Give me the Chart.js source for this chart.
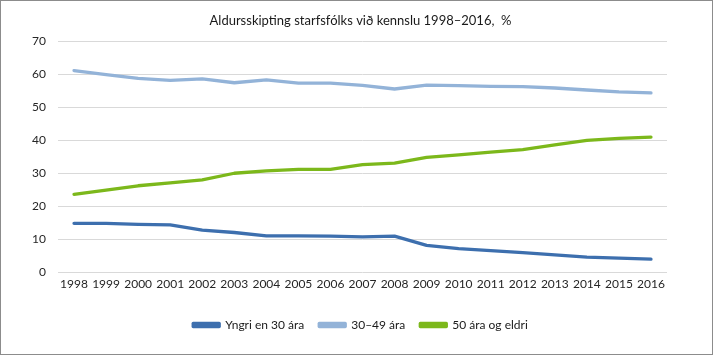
<!DOCTYPE html>
<html>
<head>
<meta charset="utf-8">
<script src="https://cdn.jsdelivr.net/npm/chart.js@4"></script>
<style>
  html, body { margin: 0; padding: 0; background: #fff; }
  #wrap { width: 711px; height: 353px; border: 1px solid #8c8c8c; position: relative; }
  canvas { display: block; }
</style>
</head>
<body>
<div id="wrap"><canvas id="c" width="711" height="353"></canvas></div>
<script>
const titleText = "Aldursskipting starfsfólks við kennslu 1998–2016,  %";
const years = ["1998","1999","2000","2001","2002","2003","2004","2005","2006","2007","2008","2009","2010","2011","2012","2013","2014","2015","2016"];
const seriesNames = ["Yngri en 30 ára", "30–49 ára", "50 ára og eldri"];
const under30 = [14.8, 14.8, 14.5, 14.3, 12.7, 12.0, 11.0, 11.0, 10.9, 10.7, 10.9, 8.1, 7.1, 6.5, 5.9, 5.2, 4.5, 4.2, 3.9];
const age30to49 = [61.2, 60.0, 58.8, 58.2, 58.7, 57.5, 58.4, 57.4, 57.4, 56.7, 55.6, 56.8, 56.6, 56.4, 56.3, 55.9, 55.3, 54.7, 54.4];
const over50 = [23.6, 24.9, 26.2, 27.1, 28.0, 30.0, 30.7, 31.2, 31.2, 32.6, 33.1, 34.8, 35.6, 36.4, 37.2, 38.6, 40.0, 40.6, 41.0];
const yTicks = [0, 10, 20, 30, 40, 50, 60, 70];
const colors = ["#3d6fae", "#93b3d8", "#7cb81b"];

const FONT = "Lato";
new Chart(document.getElementById("c"), {
  type: "line",
  data: {
    labels: years,
    datasets: [
      { label: seriesNames[0], data: under30, borderColor: colors[0], backgroundColor: colors[0] },
      { label: seriesNames[1], data: age30to49, borderColor: colors[1], backgroundColor: colors[1] },
      { label: seriesNames[2], data: over50, borderColor: colors[2], backgroundColor: colors[2] }
    ]
  },
  options: {
    responsive: false,
    animation: false,
    devicePixelRatio: 1,
    layout: { padding: { left: 14, right: 6, top: 10, bottom: 13 } },
    elements: {
      line: { borderWidth: 3.3, tension: 0, borderCapStyle: "round", borderJoinStyle: "round" },
      point: { radius: 0 }
    },
    plugins: {
      title: {
        display: true, text: titleText, color: "#1a1a1a",
        font: { family: FONT, size: 13, weight: "normal" },
        padding: { top: 2, bottom: 13 }
      },
      legend: {
        position: "bottom",
        labels: {
          boxWidth: 26, boxHeight: 3, color: "#1a1a1a",
          font: { family: FONT, size: 12 },
          padding: 15
        }
      },
      tooltip: { enabled: false }
    },
    scales: {
      x: {
        offset: true,
        afterFit: (axis) => { axis.height = 32; },
        grid: { display: false, drawTicks: false },
        border: { display: false },
        ticks: { color: "#262626", font: { family: FONT, size: 12 }, padding: 5, maxRotation: 0, autoSkip: false }
      },
      y: {
        min: 0, max: 70,
        afterBuildTicks: (axis) => { axis.ticks = yTicks.map(v => ({ value: v })); },
        afterFit: (axis) => { axis.width = 43; },
        grid: { color: "#d9d9d9", lineWidth: 1, drawTicks: false },
        border: { display: false },
        ticks: { color: "#262626", font: { family: FONT, size: 12 }, padding: 12 }
      },
      yRight: {
        position: "right",
        min: 0, max: 70,
        afterFit: (axis) => { axis.width = 39; },
        grid: { display: false, drawTicks: false },
        border: { display: false },
        ticks: { display: false }
      }
    }
  }
});
</script>
</body>
</html>
